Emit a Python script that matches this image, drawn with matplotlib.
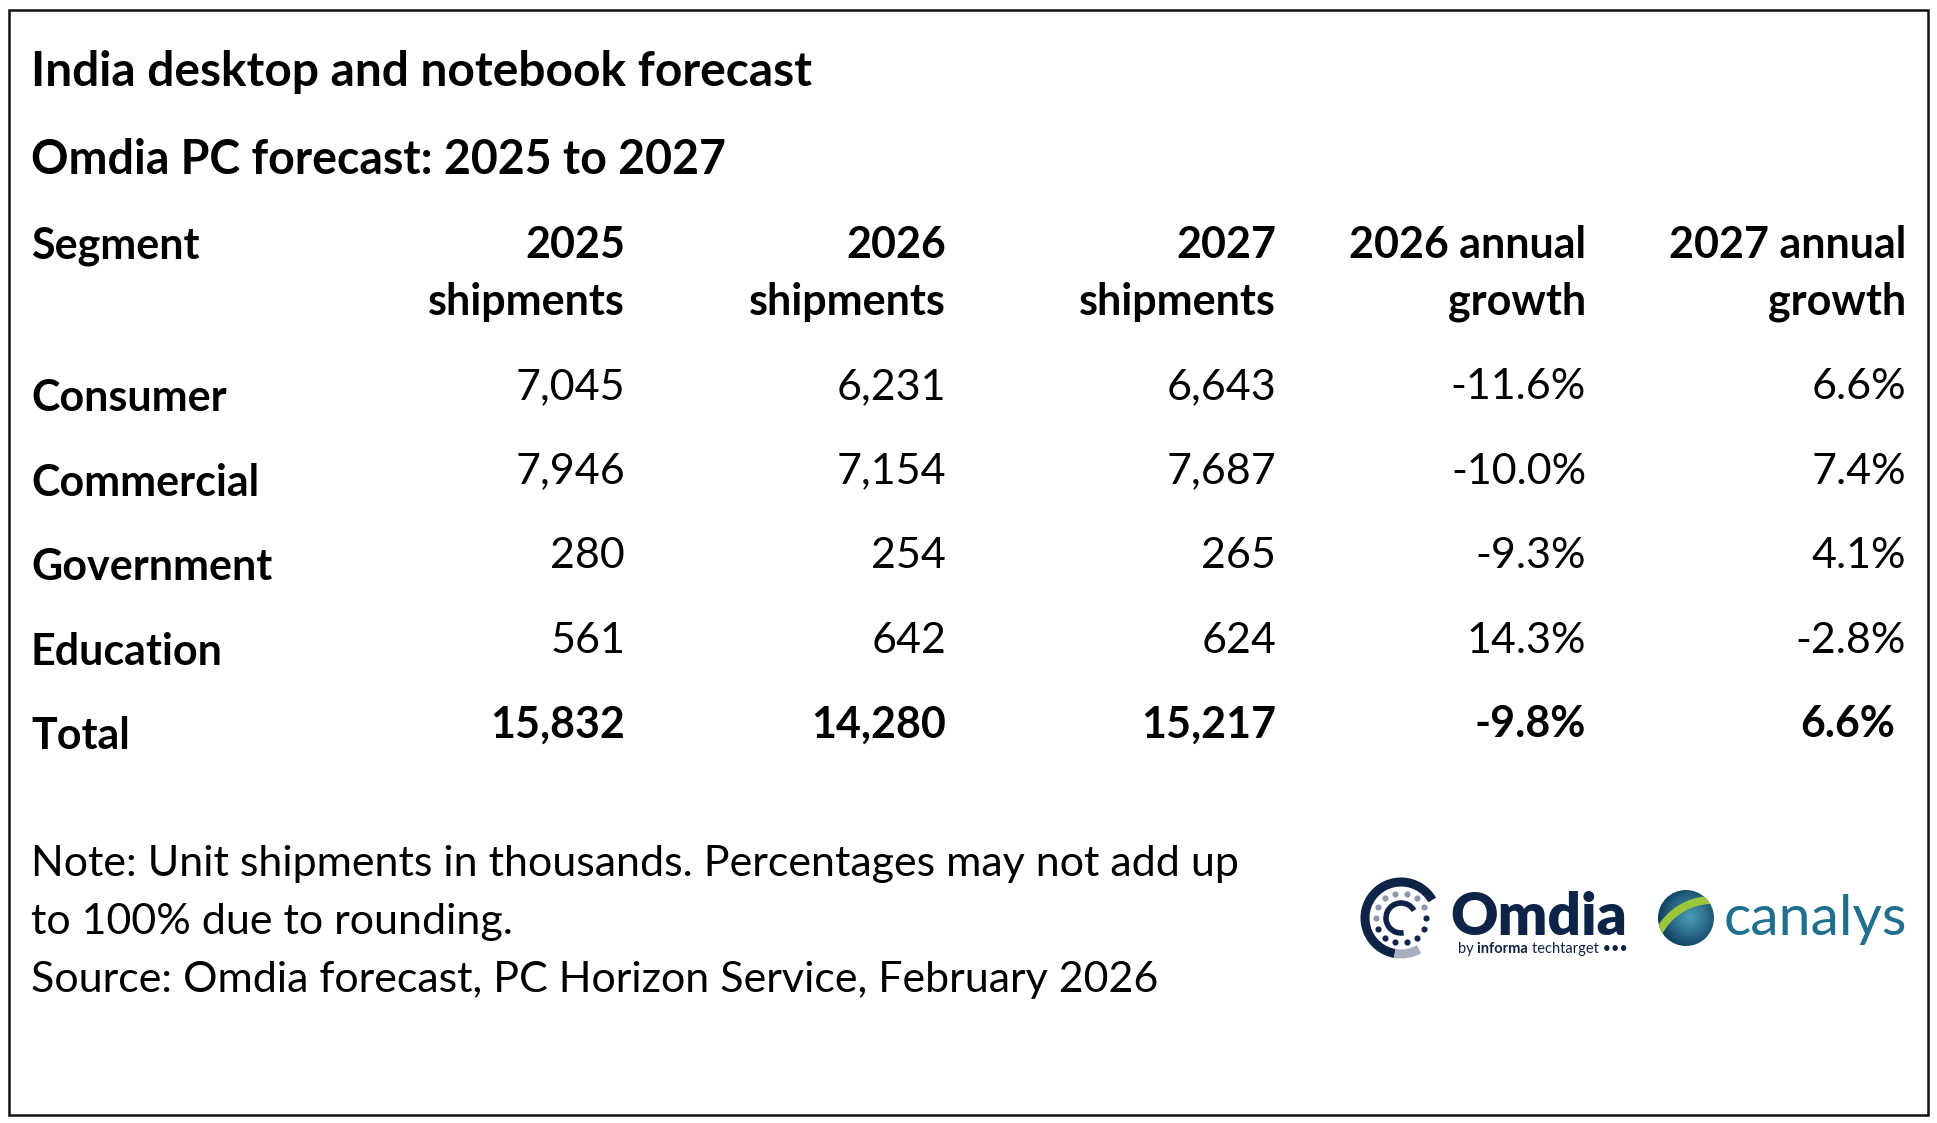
import matplotlib.pyplot as plt
import matplotlib.patches as mpatches
import numpy as np

plt.rcParams['font.family'] = ['Lato', 'DejaVu Sans']

# table data (unit shipments in thousands)
segments = ['Consumer', 'Commercial', 'Government', 'Education']
ship_2025 = [7045, 7946, 280, 561]
ship_2026 = [6231, 7154, 254, 642]
ship_2027 = [6643, 7687, 265, 624]
growth_2026 = [-11.6, -10.0, -9.3, 14.3]
growth_2027 = [6.6, 7.4, 4.1, -2.8]
total_ship = [15832, 14280, 15217]
total_growth = [-9.8, 6.6]

col_heads = [('2025', 'shipments'), ('2026', 'shipments'), ('2027', 'shipments'),
             ('2026 annual', 'growth'), ('2027 annual', 'growth')]
title = 'India desktop and notebook forecast'
subtitle = 'Omdia PC forecast: 2025 to 2027'
notes = ['Note: Unit shipments in thousands. Percentages may not add up',
         'to 100% due to rounding.',
         'Source: Omdia forecast, PC Horizon Service, February 2026']

W, H = 1937, 1123
fig = plt.figure(figsize=(W / 100, H / 100), dpi=100)
ax = fig.add_axes([0, 0, 1, 1])
ax.set_xlim(0, W)
ax.set_ylim(H, 0)
ax.axis('off')

# outer frame
ax.add_patch(mpatches.Rectangle((9, 10), 1919, 1105, fill=False, lw=1.8, ec='#111111'))

x0 = 31
col_x = [625, 946, 1276, 1586, 1906]
ts = 34.5
bs = 31

ax.text(x0, 86, title, fontsize=ts, fontweight='bold', va='baseline')
ax.text(x0, 174, subtitle, fontsize=33.5, fontweight='bold', va='baseline')

# header
ax.text(x0, 258, 'Segment', fontsize=bs, fontweight='bold', va='baseline')
for cx, (l1, l2) in zip(col_x, col_heads):
    ax.text(cx, 258, l1, fontsize=bs, fontweight='bold', va='baseline', ha='right')
    ax.text(cx, 315, l2, fontsize=bs, fontweight='bold', va='baseline', ha='right')

# body rows
row_pitch = 84.6
lab_y0 = 411
val_y0 = 399
for i, seg in enumerate(segments):
    ly = lab_y0 + i * row_pitch
    vy = val_y0 + i * row_pitch
    ax.text(x0, ly, seg, fontsize=bs, fontweight='bold', va='baseline')
    vals = [f'{ship_2025[i]:,}', f'{ship_2026[i]:,}', f'{ship_2027[i]:,}',
            f'{growth_2026[i]:.1f}%', f'{growth_2027[i]:.1f}%']
    for cx, v in zip(col_x, vals):
        ax.text(cx, vy, v, fontsize=bs, va='baseline', ha='right')

# total row
ly = lab_y0 + 4 * row_pitch
vy = val_y0 + 4 * row_pitch
ax.text(x0, ly, 'Total', fontsize=bs, fontweight='bold', va='baseline')
tvals = [f'{v:,}' for v in total_ship] + [f'{g:.1f}%' for g in total_growth]
for k, (cx, v) in enumerate(zip(col_x, tvals)):
    shift = 11 if k == 4 else 0
    ax.text(cx - shift, vy, v, fontsize=bs, fontweight='bold', va='baseline', ha='right')

# notes
for j, line in enumerate(notes):
    ax.text(x0, 876 + j * 58, line, fontsize=bs, va='baseline')

# Omdia logo
navy = '#0d2347'
cx, cy = 1401, 918
for r, w, t1, t2, c in [(36, 6.5, 100, 330, navy), (36, 6.5, 60, 100, '#a7afbf'),
                        (15, 4, 80, 330, navy)]:
    ax.add_patch(mpatches.Arc((cx, cy), 2 * r, 2 * r, theta1=t1, theta2=t2,
                              lw=w, color=c))
for a in np.linspace(0, 2 * np.pi, 14, endpoint=False):
    ax.plot(cx + 25 * np.cos(a), cy - 25 * np.sin(a), 'o', ms=3.4,
            color='#8c96ad' if np.sin(a) > 0 else navy)
ax.text(1450, 935, 'Omdia', fontsize=42, fontweight='heavy', color=navy, va='baseline')

renderer = fig.canvas.get_renderer()
inv = ax.transData.inverted()
tx = 1458
for part, wt in [('by ', 'normal'), ('informa ', 'bold'), ('techtarget \u2022\u2022\u2022', 'normal')]:
    t = ax.text(tx, 953, part, fontsize=10.5, fontweight=wt, color=navy, va='baseline')
    bb = t.get_window_extent(renderer)
    tx = inv.transform((bb.x1, 0))[0]

# canalys logo
sx, sy, sr = 1686, 918, 28
yy, xx = np.mgrid[-1:1:200j, -1:1:200j]
rr = np.sqrt((xx - 0.15) ** 2 + (yy + 0.05) ** 2)
shade = np.clip(rr / 1.25, 0, 1) ** 1.2
base = np.array([0.28, 0.60, 0.70])
dark = np.array([0.03, 0.20, 0.33])
img = base[None, None, :] * (1 - shade[..., None]) + dark[None, None, :] * shade[..., None]
im = ax.imshow(img, extent=(sx - sr, sx + sr, sy + sr, sy - sr), zorder=3)
circ = mpatches.Circle((sx, sy), sr, transform=ax.transData, fc='none', ec='none')
ax.add_patch(circ)
im.set_clip_path(circ)
swoosh = mpatches.Wedge((sx + 26, sy + 42), 64, -152, -92, width=8, fc='#9cc63c',
                        ec='none', zorder=4)
ax.add_patch(swoosh)
swoosh.set_clip_path(circ)
ax.text(1724, 935, 'canalys', fontsize=41, color='#1f6f8f', va='baseline')
ax.set_xlim(0, W)
ax.set_ylim(H, 0)

fig.savefig('out.png', dpi=100, facecolor='white')
